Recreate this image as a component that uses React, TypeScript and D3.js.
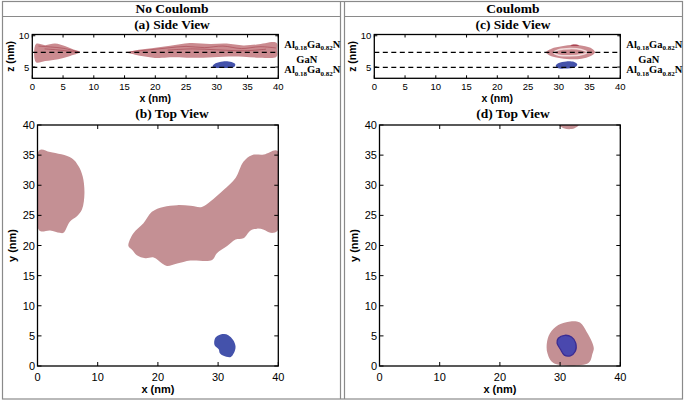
import React from "react";
import * as d3 from "d3";

type P = [number, number];

// ---------- data (nm) ----------
const sideXTicks = [0, 5, 10, 15, 20, 25, 30, 35, 40];
const sideZTicks = [5, 10];
const topXTicks = [0, 10, 20, 30, 40];
const topYTicks = [0, 5, 10, 15, 20, 25, 30, 35, 40];
const wellEdges = [4.95, 7.35];

// (a) side view, no Coulomb: electron (pink) and hole (blue) isosurfaces
const sideA_e1: P[] = [[0.6, 8.68], [2.1, 8.5], [3.7, 8.75], [5.3, 8.35], [6.7, 7.8], [7.8, 7.4], [5.9, 6.7], [4.2, 6.25], [2.1, 5.95], [0.6, 5.76]];
const sideA_e2: P[] = [[15.35, 7.35], [16.7, 7.65], [19.4, 8.0], [22.4, 8.4], [25.6, 8.84], [28.9, 8.7], [31.6, 8.75], [34.3, 8.45], [36.5, 8.6], [39.7, 8.9], [39.8, 7.8], [39.7, 6.65], [37.0, 6.5], [34.3, 6.65], [31.1, 6.65], [27.8, 6.5], [25.1, 6.5], [22.4, 6.55], [20.5, 6.44], [18.3, 6.7], [16.7, 6.97]];
const sideA_streaks: P[][] = [
  [[1.0, 8.35], [3.0, 8.2], [5.0, 8.0], [7.5, 7.45]],
  [[2.0, 7.9], [4.5, 7.7], [7.2, 7.38]],
  [[16.0, 7.45], [19.0, 7.75], [22.0, 8.05], [25.0, 8.3], [28.0, 8.1], [31.0, 8.35], [34.0, 7.95], [37.0, 8.25], [39.6, 8.05]],
  [[22.0, 7.7], [26.0, 7.9], [30.0, 7.75], [34.5, 7.6], [38.0, 7.85]],
];
const sideA_h: P[] = [[29.3, 5.1], [29.8, 5.6], [31.0, 5.9], [32.4, 5.8], [33.0, 5.45], [32.8, 5.0], [31.0, 4.85], [29.6, 4.9]];

// (b) top view, no Coulomb
const topB_e1: P[] = [[0.3, 35.8], [2.1, 35.5], [5.7, 34.5], [6.8, 33.2], [7.5, 31.5], [7.8, 28.7], [7.4, 26.0], [6.5, 24.8], [5.4, 24.0], [4.3, 22.1], [3.7, 22.1], [2.1, 22.5], [0.3, 22.5]];
const topB_e2: P[] = [[15.1, 19.9], [15.9, 22.0], [17.6, 23.7], [19.0, 25.6], [20.9, 26.4], [23.2, 26.7], [25.4, 26.6], [27.3, 26.4], [28.7, 27.3], [30.9, 29.2], [32.9, 31.2], [34.2, 33.9], [35.6, 35.0], [37.6, 35.1], [39.9, 35.7], [39.9, 22.5], [38.7, 22.1], [37.6, 22.6], [36.5, 22.8], [35.4, 22.5], [34.2, 21.2], [32.9, 21.0], [31.5, 19.9], [29.8, 18.7], [29.0, 17.6], [25.4, 17.5], [23.2, 17.0], [21.5, 16.6], [20.7, 17.0], [19.3, 18.0], [17.9, 17.9], [16.5, 18.4], [15.7, 19.3]];
const topB_h: P[] = [[31.0, 5.3], [31.7, 5.1], [32.5, 4.3], [32.9, 3.2], [32.6, 2.1], [32.1, 1.5], [30.9, 1.7], [30.3, 2.1], [30.1, 2.8], [29.4, 3.5], [29.5, 4.6], [30.1, 5.1]];

// (c) side view, Coulomb
const sideC_e: P[] = [[27.9, 7.35], [28.8, 7.93], [30.5, 8.31], [32.4, 8.57], [34.3, 8.31], [35.4, 7.93], [35.9, 7.35], [35.1, 6.71], [33.7, 6.33], [31.3, 6.28], [29.4, 6.55], [28.3, 6.97]];
const sideC_ring: P[] = [[29.2, 7.3], [30.0, 7.75], [31.8, 7.95], [33.6, 7.8], [34.6, 7.35], [33.6, 6.95], [31.8, 6.8], [30.0, 6.9]];
const sideC_spot: P[] = [[31.9, 8.5], [32.6, 8.62], [33.3, 8.5], [32.6, 8.4]];
const sideC_h: P[] = [[29.5, 5.2], [30.0, 5.65], [31.2, 5.9], [32.5, 5.8], [33.0, 5.4], [32.6, 4.95], [31.0, 4.75], [29.8, 4.85]];

// (d) top view, Coulomb
const topD_e: P[] = [[27.8, 3.8], [28.3, 5.4], [29.7, 6.8], [31.7, 7.4], [33.3, 7.2], [34.4, 5.7], [35.3, 4.0], [35.6, 2.9], [35.4, 2.1], [34.7, 0.5], [28.9, 0.5], [27.9, 2.1]];
const topD_eTop: P[] = [[29.8, 40], [30.6, 39.45], [31.5, 39.3], [32.4, 39.45], [33.1, 40]];
const topD_h: P[] = [[29.7, 4.6], [30.8, 5.1], [31.9, 4.8], [32.6, 3.8], [32.5, 2.4], [31.7, 1.7], [30.7, 1.8], [30.1, 2.7], [29.5, 3.8]];

// ---------- styles ----------
const PINK_SIDE = "#cb8b90";
const PINK_TOP = "#c49094";
const BLUE = "#4452ab";
const SERIF = "'Liberation Serif', 'Times New Roman', serif";
const SANS = "'Liberation Sans', Arial, Helvetica, sans-serif";
const FRAME = "#8a8a8a";

function AlLabel({ x, y }: { x: number; y: number }) {
  return (
    <text x={x} y={y} fontFamily={SERIF} fontWeight="bold" fontSize={10.5}>
      Al<tspan fontSize={7} dy={2.5}>0.18</tspan>
      <tspan dy={-2.5}>Ga</tspan>
      <tspan fontSize={7} dy={2.5}>0.82</tspan>
      <tspan dy={-2.5}>N</tspan>
    </text>
  );
}

function SideView({ x0, x1, title, cx, shapes }: { x0: number; x1: number; title: string; cx: number; shapes: (xs: any, zs: any) => React.ReactNode }) {
  const xs = d3.scaleLinear().domain([0, 40]).range([x0, x1]);
  const zs = d3.scaleLinear().domain([3.2, 10.2]).range([78.3, 34.5]);
  const [yb, yt] = zs.range();
  return (
    <g>
      <text x={cx} y={28.5} textAnchor="middle" fontFamily={SERIF} fontWeight="bold" fontSize={13.5}>{title}</text>
      {shapes(xs, zs)}
      {wellEdges.map((z) => (
        <line key={z} x1={x0} x2={x1} y1={zs(z)} y2={zs(z)} stroke="#000" strokeWidth={1.2} strokeDasharray="5,3.5" />
      ))}
      <rect x={x0} y={yt} width={x1 - x0} height={yb - yt} fill="none" stroke="#000" strokeWidth={1.3} />
      {sideXTicks.map((t) => (
        <g key={t}>
          <line x1={xs(t)} x2={xs(t)} y1={yb} y2={yb - 3} stroke="#000" />
          <line x1={xs(t)} x2={xs(t)} y1={yt} y2={yt + 3} stroke="#000" />
          <text x={xs(t)} y={90} textAnchor="middle" fontFamily={SANS} fontSize={9.5}>{t}</text>
        </g>
      ))}
      {sideZTicks.map((t) => (
        <g key={t}>
          <line x1={x0} x2={x0 + 3} y1={zs(t)} y2={zs(t)} stroke="#000" />
          <line x1={x1} x2={x1 - 3} y1={zs(t)} y2={zs(t)} stroke="#000" />
          <text x={x0 - 3} y={zs(t) + 3.5} textAnchor="end" fontFamily={SANS} fontSize={9.5}>{t}</text>
        </g>
      ))}
      <text x={(x0 + x1) / 2} y={101.5} textAnchor="middle" fontFamily={SANS} fontWeight="bold" fontSize={10.5}>x (nm)</text>
      <text transform={`translate(${x0 - 18},${(yb + yt) / 2}) rotate(-90)`} textAnchor="middle" fontFamily={SANS} fontWeight="bold" fontSize={10.5}>z (nm)</text>
      <AlLabel x={x1 + 6} y={47.5} />
      <text x={x1 + 28.5} y={63} textAnchor="middle" fontFamily={SERIF} fontWeight="bold" fontSize={10.5}>GaN</text>
      <AlLabel x={x1 + 6} y={73.3} />
    </g>
  );
}

function TopView({ x0, x1, title, cx, shapes }: { x0: number; x1: number; title: string; cx: number; shapes: (xs: any, ys: any) => React.ReactNode }) {
  const xs = d3.scaleLinear().domain([0, 40]).range([x0, x1]);
  const ys = d3.scaleLinear().domain([0, 40]).range([366, 125]);
  const [yb, yt] = ys.range();
  return (
    <g>
      <text x={cx} y={118} textAnchor="middle" fontFamily={SERIF} fontWeight="bold" fontSize={13.5}>{title}</text>
      <defs>
        <clipPath id={`clip${x0}`}>
          <rect x={x0} y={yt} width={x1 - x0} height={yb - yt} />
        </clipPath>
      </defs>
      <g clipPath={`url(#clip${x0})`}>{shapes(xs, ys)}</g>
      <rect x={x0} y={yt} width={x1 - x0} height={yb - yt} fill="none" stroke="#000" strokeWidth={1.3} />
      {topXTicks.map((t) => (
        <g key={t}>
          <line x1={xs(t)} x2={xs(t)} y1={yb} y2={yb - 4} stroke="#000" />
          <line x1={xs(t)} x2={xs(t)} y1={yt} y2={yt + 4} stroke="#000" />
          <text x={xs(t)} y={380.5} textAnchor="middle" fontFamily={SANS} fontSize={11}>{t}</text>
        </g>
      ))}
      {topYTicks.map((t) => (
        <g key={t}>
          <line x1={x0} x2={x0 + 4} y1={ys(t)} y2={ys(t)} stroke="#000" />
          <line x1={x1} x2={x1 - 4} y1={ys(t)} y2={ys(t)} stroke="#000" />
          <text x={x0 - 2.5} y={ys(t) + 4} textAnchor="end" fontFamily={SANS} fontSize={11}>{t}</text>
        </g>
      ))}
      <text x={(x0 + x1) / 2} y={392.5} textAnchor="middle" fontFamily={SANS} fontWeight="bold" fontSize={11}>x (nm)</text>
      <text transform={`translate(${x0 - 22},${(yb + yt) / 2}) rotate(-90)`} textAnchor="middle" fontFamily={SANS} fontWeight="bold" fontSize={11}>y (nm)</text>
    </g>
  );
}

function blob(pts: P[], xs: any, ys: any) {
  return d3.line<P>().x((d) => xs(d[0])).y((d) => ys(d[1])).curve(d3.curveCatmullRomClosed.alpha(0.5))(pts) || "";
}
function open(pts: P[], xs: any, ys: any) {
  return d3.line<P>().x((d) => xs(d[0])).y((d) => ys(d[1])).curve(d3.curveCatmullRom.alpha(0.5))(pts) || "";
}

export default function App() {
  return (
    <svg width={685} height={402} style={{ position: "absolute", left: 0, top: 0, background: "#fff" }}>
      <rect x={0} y={0} width={685} height={402} fill="#fff" />
      {/* frames */}
      <rect x={2.5} y={1.5} width={680} height={397.5} fill="none" stroke={FRAME} strokeWidth={1.2} />
      <line x1={340.5} x2={340.5} y1={1.5} y2={399} stroke={FRAME} strokeWidth={1.2} />
      <line x1={344.5} x2={344.5} y1={1.5} y2={399} stroke={FRAME} strokeWidth={1.2} />
      <line x1={2.5} x2={340.5} y1={16.5} y2={16.5} stroke={FRAME} strokeWidth={1.2} />
      <line x1={344.5} x2={682.5} y1={16.5} y2={16.5} stroke={FRAME} strokeWidth={1.2} />
      <text x={172} y={13} textAnchor="middle" fontFamily={SERIF} fontWeight="bold" fontSize={13.5}>No Coulomb</text>
      <text x={513} y={13} textAnchor="middle" fontFamily={SERIF} fontWeight="bold" fontSize={13.5}>Coulomb</text>

      <SideView
        x0={32.3}
        x1={278.3}
        cx={172}
        title="(a) Side View"
        shapes={(xs, zs) => (
          <g>
            <path d={blob(sideA_e1, xs, zs)} fill={PINK_SIDE} />
            <path d={blob(sideA_e2, xs, zs)} fill={PINK_SIDE} />
            {sideA_streaks.map((s, i) => (
              <path key={i} d={open(s, xs, zs)} fill="none" stroke="#a13c48" strokeWidth={1} opacity={0.55} />
            ))}
            <path d={blob(sideA_h, xs, zs)} fill={BLUE} />
          </g>
        )}
      />
      <SideView
        x0={374.3}
        x1={620.3}
        cx={513}
        title="(c) Side View"
        shapes={(xs, zs) => (
          <g>
            <path d={blob(sideC_e, xs, zs)} fill={PINK_SIDE} />
            <path d={blob(sideC_ring, xs, zs)} fill="none" stroke="#f1dcdc" strokeWidth={1.6} />
            <path d={blob(sideC_spot, xs, zs)} fill="#a02c3c" />
            <path d={blob(sideC_h, xs, zs)} fill={BLUE} />
          </g>
        )}
      />
      <TopView
        x0={37.5}
        x1={278.3}
        cx={172}
        title="(b) Top View"
        shapes={(xs, ys) => (
          <g>
            <path d={blob(topB_e1, xs, ys)} fill={PINK_TOP} />
            <path d={blob(topB_e2, xs, ys)} fill={PINK_TOP} />
            <path d={blob(topB_h, xs, ys)} fill={BLUE} />
          </g>
        )}
      />
      <TopView
        x0={379.5}
        x1={620.3}
        cx={513}
        title="(d) Top View"
        shapes={(xs, ys) => (
          <g>
            <path d={blob(topD_e, xs, ys)} fill={PINK_TOP} />
            <path d={blob(topD_eTop, xs, ys)} fill={PINK_TOP} />
            <path d={blob(topD_h, xs, ys)} fill="#4a48ae" stroke="#3b2c92" strokeWidth={1.3} />
          </g>
        )}
      />
    </svg>
  );
}
